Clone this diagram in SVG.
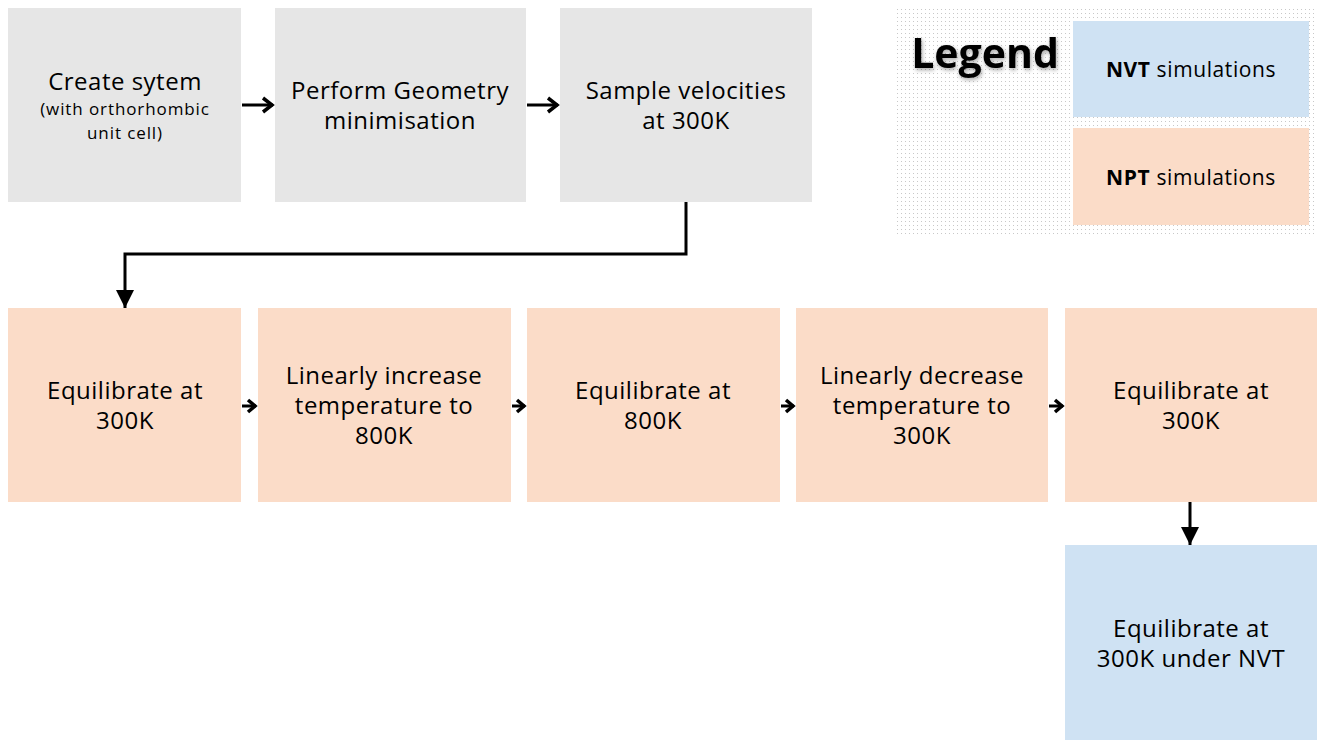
<svg xmlns="http://www.w3.org/2000/svg" width="1333" height="750" viewBox="0 0 1333 750">
<style>
.gray{fill:#e6e6e6}
.npt{fill:#fbdcc8}
.nvt{fill:#cfe2f3}
text{font-family:"Open Sans","Noto Sans",sans-serif}
.t{font-size:24px;letter-spacing:0.5px;fill:#000;text-anchor:middle}
.s{font-size:17px;letter-spacing:0.9px}
.lg{font-size:21px;letter-spacing:0.6px;fill:#000;text-anchor:middle}
.ln{fill:none;stroke:#000;stroke-width:3}
</style>
<defs>
<pattern id="dots" width="4" height="4" patternUnits="userSpaceOnUse">
<rect width="4" height="4" fill="#fff"/>
<rect x="1" y="1" width="1" height="1" fill="#c8c8c8"/>
</pattern>
<marker id="open" viewBox="-14 -10 16 20" refX="0" refY="0" markerWidth="16" markerHeight="20" orient="auto" markerUnits="userSpaceOnUse">
<path d="M-10,-7 L-1,0 L-10,7" fill="none" stroke="#000" stroke-width="3.5"/>
</marker>
<marker id="openS" viewBox="-12 -9 14 18" refX="0" refY="0" markerWidth="14" markerHeight="18" orient="auto" markerUnits="userSpaceOnUse">
<path d="M-8,-6 L-1,0 L-8,6" fill="none" stroke="#000" stroke-width="3.5"/>
</marker>
<marker id="tri" viewBox="0 0 10 10" refX="10" refY="5" markerWidth="6" markerHeight="6" orient="auto" markerUnits="strokeWidth">
<path d="M0,0 L10,5 L0,10 Z" fill="#000"/>
</marker>
<filter id="sh" x="-20%" y="-30%" width="140%" height="160%">
<feDropShadow dx="1" dy="2" stdDeviation="2" flood-color="#000" flood-opacity="0.35"/>
</filter>
</defs>

<g id="legend">
<rect x="895" y="8" width="421" height="226" fill="url(#dots)"/>
<text x="985" y="68" font-weight="700" font-size="41" text-anchor="middle" filter="url(#sh)">Legend</text>
<rect class="nvt" x="1073" y="21" width="236" height="96"/>
<text class="lg" x="1191" y="77"><tspan font-weight="bold">NVT</tspan> simulations</text>
<rect class="npt" x="1073" y="128" width="236" height="97"/>
<text class="lg" x="1191" y="185"><tspan font-weight="bold">NPT</tspan> simulations</text>
</g>

<g id="n1">
<rect class="gray" x="8" y="8" width="233" height="194"/>
<text class="t" x="125" y="90">Create sytem</text>
<text class="t s" x="125" y="115">(with orthorhombic</text>
<text class="t s" x="125" y="139">unit cell)</text>
</g>
<g id="n2">
<rect class="gray" x="275" y="8" width="251" height="194"/>
<text class="t" x="400" y="99">Perform Geometry</text>
<text class="t" x="400" y="129">minimisation</text>
</g>
<g id="n3">
<rect class="gray" x="560" y="8" width="252" height="194"/>
<text class="t" x="686" y="99">Sample velocities</text>
<text class="t" x="686" y="129">at 300K</text>
</g>

<g id="n4">
<rect class="npt" x="8" y="308" width="233" height="194"/>
<text class="t" x="125" y="399">Equilibrate at</text>
<text class="t" x="125" y="429">300K</text>
</g>
<g id="n5">
<rect class="npt" x="258" y="308" width="253" height="194"/>
<text class="t" x="384" y="384">Linearly increase</text>
<text class="t" x="384" y="414">temperature to</text>
<text class="t" x="384" y="444">800K</text>
</g>
<g id="n6">
<rect class="npt" x="527" y="308" width="253" height="194"/>
<text class="t" x="653" y="399">Equilibrate at</text>
<text class="t" x="653" y="429">800K</text>
</g>
<g id="n7">
<rect class="npt" x="796" y="308" width="252" height="194"/>
<text class="t" x="922" y="384">Linearly decrease</text>
<text class="t" x="922" y="414">temperature to</text>
<text class="t" x="922" y="444">300K</text>
</g>
<g id="n8">
<rect class="npt" x="1065" y="308" width="252" height="194"/>
<text class="t" x="1191" y="399">Equilibrate at</text>
<text class="t" x="1191" y="429">300K</text>
</g>
<g id="n9">
<rect class="nvt" x="1065" y="545" width="252" height="195"/>
<text class="t" x="1191" y="637">Equilibrate at</text>
<text class="t" x="1191" y="667">300K under NVT</text>
</g>

<g id="connectors">
<line class="ln" x1="242" y1="105" x2="273" y2="105" marker-end="url(#open)"/>
<line class="ln" x1="527" y1="105" x2="558" y2="105" marker-end="url(#open)"/>
<polyline class="ln" points="686,202 686,254 125,254 125,308" marker-end="url(#tri)"/>
<line class="ln" x1="242" y1="406" x2="256" y2="406" marker-end="url(#openS)"/>
<line class="ln" x1="512" y1="406" x2="525" y2="406" marker-end="url(#openS)"/>
<line class="ln" x1="781" y1="406" x2="794" y2="406" marker-end="url(#openS)"/>
<line class="ln" x1="1049" y1="406" x2="1063" y2="406" marker-end="url(#openS)"/>
<line class="ln" x1="1190" y1="502" x2="1190" y2="545" marker-end="url(#tri)"/>
</g>
</svg>
